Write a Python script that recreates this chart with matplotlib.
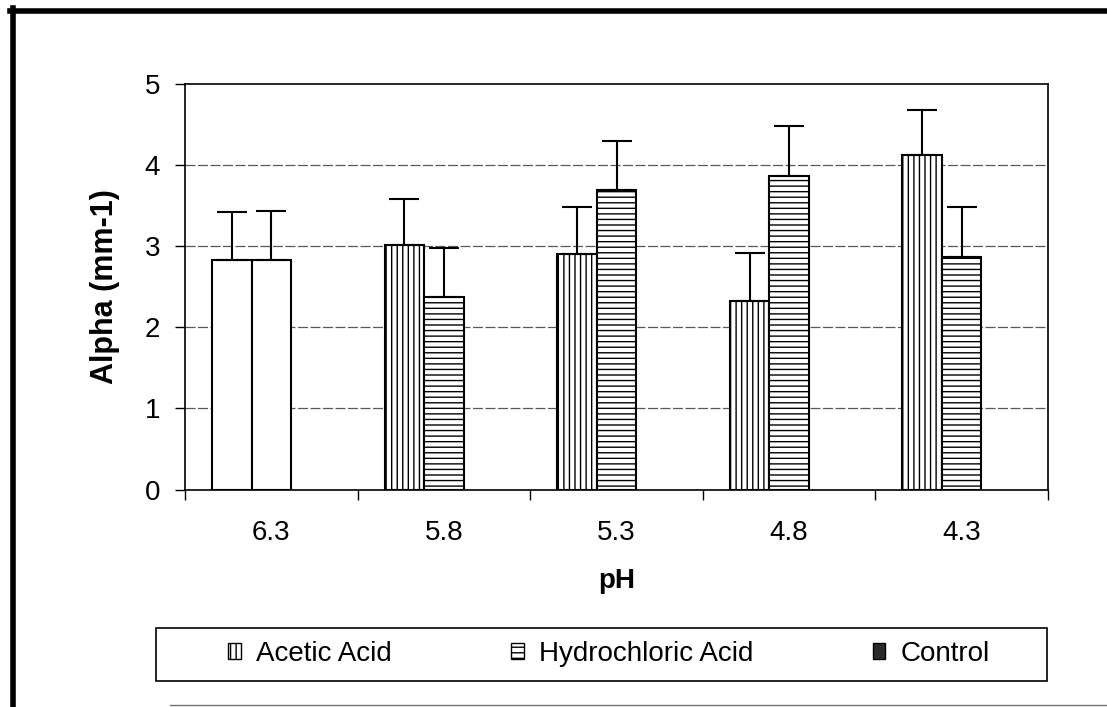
#!/usr/bin/env python3
"""Alpha en fonction du pH, acide acétique / acide chlorhydrique"""

import numpy as np
import matplotlib.pyplot as plt
from matplotlib.patches import Patch, Rectangle
from matplotlib.lines import Line2D

ph_labels = ["6.3", "5.8", "5.3", "4.8", "4.3"]
acetic = [2.83, 3.02, 2.90, 2.32, 4.12]
acetic_err = [0.59, 0.56, 0.58, 0.59, 0.56]
hcl = [2.83, 2.37, 3.69, 3.87, 2.87]
hcl_err = [0.61, 0.61, 0.61, 0.61, 0.61]
series_names = ["Acetic Acid", "Hydrochloric Acid", "Control"]

plt.rcParams['font.family'] = ['Liberation Sans', 'DejaVu Sans']
plt.rcParams['hatch.linewidth'] = 1.0

fig = plt.figure(figsize=(11.07, 7.07), dpi=100)
ax = fig.add_axes([185 / 1107, 1 - 489.5 / 707, (1048 - 185) / 1107, (489.5 - 84) / 707])

x = np.arange(len(ph_labels))
w = 0.229

bars_a = ax.bar(x - w, acetic, w, color="white", edgecolor="black", linewidth=1.5, zorder=3)
bars_h = ax.bar(x, hcl, w, color="white", edgecolor="black", linewidth=1.5, zorder=3)
# le témoin (pH 6.3) reste sans motif
for i, (ba, bh) in enumerate(zip(bars_a, bars_h)):
	if i > 0:
		ba.set_hatch("|||")
		bh.set_hatch("---")

zeros = np.zeros(len(x))
ax.errorbar(x - w, acetic, yerr=[zeros, acetic_err], fmt="none", ecolor="black",
            elinewidth=1.5, capsize=11, capthick=1.5, zorder=4)
ax.errorbar(x, hcl, yerr=[zeros, hcl_err], fmt="none", ecolor="black",
            elinewidth=1.5, capsize=11, capthick=1.5, zorder=4)

ax.set_xlim(-0.5, len(x) - 0.5)
ax.set_ylim(0, 5)
ax.set_yticks(range(6))
ax.set_xticks(x)
ax.set_xticklabels(ph_labels)
ax.set_xticks(np.arange(len(x) + 1) - 0.5, minor=True)
ax.tick_params(axis="x", which="major", length=0, pad=22, labelsize=20)
ax.tick_params(axis="x", which="minor", length=7, width=1, direction="out")
ax.tick_params(axis="y", length=7, width=1, pad=11, labelsize=20)

for v in range(1, 5):
	ax.axhline(v, color="0.35", linewidth=0.9, linestyle=(0, (8, 2)), zorder=1)

for s in ax.spines.values():
	s.set_color("black")
	s.set_linewidth(1.2)

ax.set_xlabel("pH", fontsize=20, fontweight="bold", labelpad=16)
ax.set_ylabel("Alpha (mm-1)", fontsize=22, fontweight="bold", labelpad=18)

# légende dans un cadre séparé
fig.patches.append(Rectangle((156 / 1107, 1 - 681 / 707), (1047 - 156) / 1107, 53 / 707,
                             transform=fig.transFigure, facecolor="white",
                             edgecolor="black", linewidth=1.2, zorder=0))
handles = [
	Patch(facecolor="white", edgecolor="black", hatch="|||", linewidth=1),
	Patch(facecolor="white", edgecolor="black", hatch="---", linewidth=1),
	Patch(facecolor="#2b2b2b", edgecolor="black", linewidth=1),
]
fig.legend(handles, series_names, loc="center", bbox_to_anchor=(609 / 1107, 1 - 654 / 707),
           ncol=3, frameon=False, fontsize=20, handlelength=0.45, handleheight=0.5,
           handletextpad=0.55, columnspacing=4.3)

# cadre de la figure
fig.add_artist(Line2D([12.5 / 1107, 12.5 / 1107], [0, 1 - 8 / 707], transform=fig.transFigure,
                      color="black", linewidth=4))
fig.add_artist(Line2D([10 / 1107, 1], [1 - 10.5 / 707, 1 - 10.5 / 707], transform=fig.transFigure,
                      color="black", linewidth=4))
fig.add_artist(Line2D([170 / 1107, 1], [1 - 705 / 707, 1 - 705 / 707], transform=fig.transFigure,
                      color="0.45", linewidth=1))

fig.savefig("out.png", dpi=100)
